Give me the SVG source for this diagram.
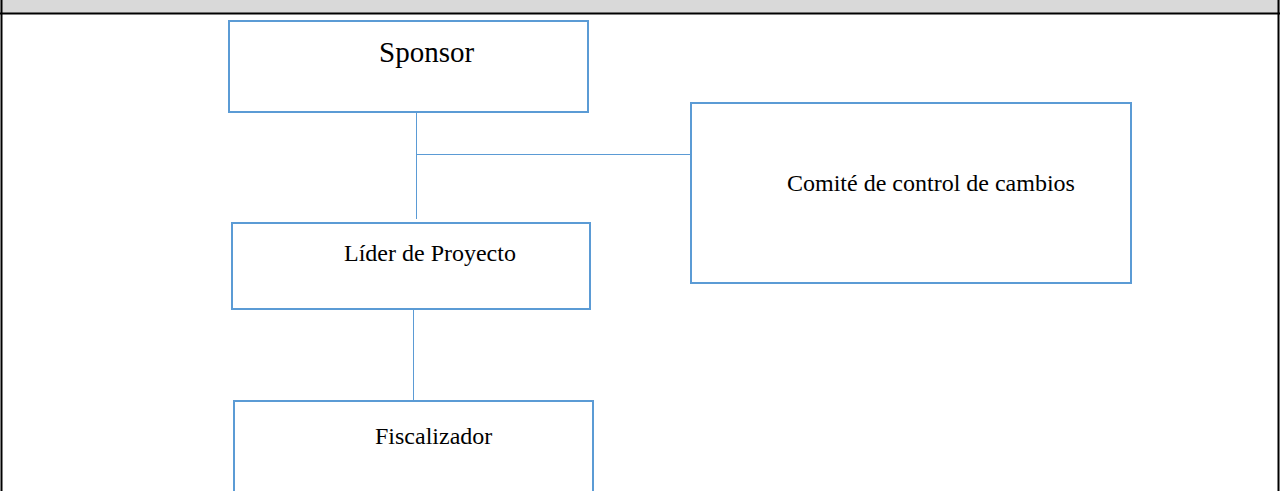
<svg xmlns="http://www.w3.org/2000/svg" width="1280" height="491" viewBox="0 0 1280 491">
<style>
.box{fill:#ffffff;stroke:#5b9bd5;stroke-width:2}
.con{fill:none;stroke:#5b9bd5;stroke-width:1}
.lbl{font-family:"Liberation Serif","Times New Roman",serif;fill:#000000;font-size:24px}
.frame{fill:none;stroke:#000000;stroke-width:2}
</style>
<rect x="0" y="0" width="1280" height="491" fill="#ffffff"/>
<g id="header">
<rect x="0" y="0" width="1280" height="13" fill="#d9d9d9"/>
<line class="frame" x1="0" y1="13.5" x2="1280" y2="13.5"/>
<line class="frame" x1="1.5" y1="0" x2="1.5" y2="491"/>
<line class="frame" x1="1278.5" y1="0" x2="1278.5" y2="491"/>
</g>
<g id="connectors">
<line class="con" x1="416.5" y1="112" x2="416.5" y2="219"/>
<line class="con" x1="416.5" y1="154.5" x2="690" y2="154.5"/>
<line class="con" x1="413.5" y1="306" x2="413.5" y2="401"/>
</g>
<g id="sponsor">
<rect class="box" x="229" y="21" width="359" height="91"/>
<text class="lbl" x="379" y="62" style="font-size:29px">Sponsor</text>
</g>
<g id="comite">
<rect class="box" x="691" y="103" width="440" height="180"/>
<text class="lbl" x="787" y="191">Comité de control de cambios</text>
</g>
<g id="lider">
<rect class="box" x="232" y="223" width="358" height="86"/>
<text class="lbl" x="344" y="261">Líder de Proyecto</text>
</g>
<g id="fiscalizador">
<rect class="box" x="234" y="401" width="359" height="100"/>
<text class="lbl" x="375" y="444">Fiscalizador</text>
</g>
</svg>
